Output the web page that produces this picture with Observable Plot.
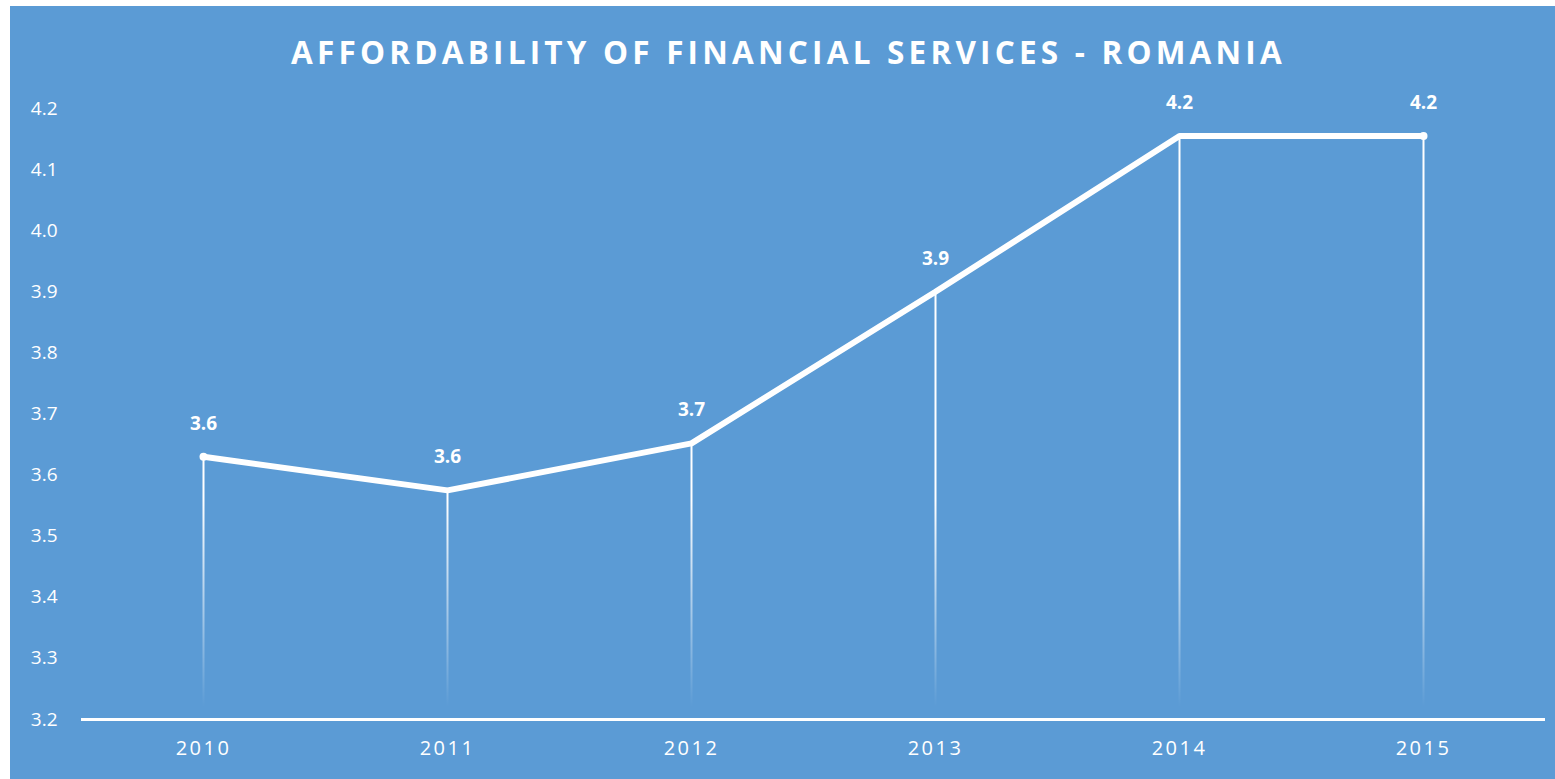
<!DOCTYPE html>
<html>
<head>
<meta charset="utf-8">
<script src="https://cdn.jsdelivr.net/npm/d3@7"></script>
<script src="https://cdn.jsdelivr.net/npm/@observablehq/plot@0.6"></script>
<style>
  html, body { margin: 0; padding: 0; background: #ffffff; }
  #panel { position: absolute; left: 10px; top: 6px; width: 1545px; height: 773px; background: #5B9BD5; overflow: hidden; }
  #title { height: 90px; line-height: 92px; text-align: center; color: #ffffff; font-family: "Open Sans", sans-serif; font-weight: 700; font-size: 31.5px; letter-spacing: 4.2px; padding-left: 12px; }
</style>
</head>
<body>
<div id="panel">
  <div id="title">AFFORDABILITY OF FINANCIAL SERVICES - ROMANIA</div>
  <div id="chart"></div>
</div>
<script>
const years = ["2010", "2011", "2012", "2013", "2014", "2015"];
const values = [3.63, 3.575, 3.652, 3.9, 4.155, 4.155];
const yTicks = [3.2, 3.3, 3.4, 3.5, 3.6, 3.7, 3.8, 3.9, 4.0, 4.1, 4.2];

const data = years.map((year, i) => ({year, value: values[i]}));

const chart = Plot.plot({
  width: 1545,
  height: 683,
  marginLeft: 71,
  marginRight: 10,
  marginTop: 12,
  marginBottom: 60,
  style: {fontFamily: "Open Sans, sans-serif", color: "#ffffff", background: "transparent", overflow: "visible"},
  x: {type: "point", domain: years, padding: 0.5, label: null},
  y: {domain: [3.2, 4.2], label: null},
  marks: [
    Plot.ruleX(data, {x: "year", y1: 3.2, y2: "value", stroke: "url(#dropGrad)", strokeWidth: 2}),
    Plot.ruleY([3.2], {stroke: "#ffffff", strokeWidth: 3}),
    Plot.line(data, {x: "year", y: "value", stroke: "#ffffff", strokeWidth: 6, strokeLinecap: "round", strokeLinejoin: "miter"}),
    Plot.dot([data[0], data[data.length - 1]], {x: "year", y: "value", r: 4, fill: "#ffffff"}),
    Plot.text(data, {x: "year", y: "value", text: d => d.value.toFixed(1), dy: -33, fill: "#ffffff", fontWeight: 700, fontSize: 19}),
    Plot.axisY({ticks: yTicks, tickFormat: d3.format(".1f"), tickSize: 0, tickPadding: 24, fontSize: 19, label: null}),
    Plot.axisX({tickSize: 0, tickPadding: 21, fontSize: 20, label: null})
  ]
});

document.getElementById("chart").appendChild(chart);

// gradient for drop lines, positioned through the y scale
const ys = chart.scale("y");
const ns = "http://www.w3.org/2000/svg";
const defs = document.createElementNS(ns, "defs");
const grad = document.createElementNS(ns, "linearGradient");
grad.setAttribute("id", "dropGrad");
grad.setAttribute("gradientUnits", "userSpaceOnUse");
grad.setAttribute("x1", 0);
grad.setAttribute("x2", 0);
grad.setAttribute("y1", ys.apply(3.56));
grad.setAttribute("y2", ys.apply(3.22));
[[0, 1], [1, 0]].forEach(([o, a]) => {
  const s = document.createElementNS(ns, "stop");
  s.setAttribute("offset", o);
  s.setAttribute("stop-color", "#ffffff");
  s.setAttribute("stop-opacity", a);
  grad.appendChild(s);
});
defs.appendChild(grad);
chart.insertBefore(defs, chart.firstChild);

// letter spacing on x tick labels
chart.querySelectorAll("[aria-label='x-axis tick label'] text").forEach(t => t.setAttribute("letter-spacing", "2.5px"));
</script>
</body>
</html>
